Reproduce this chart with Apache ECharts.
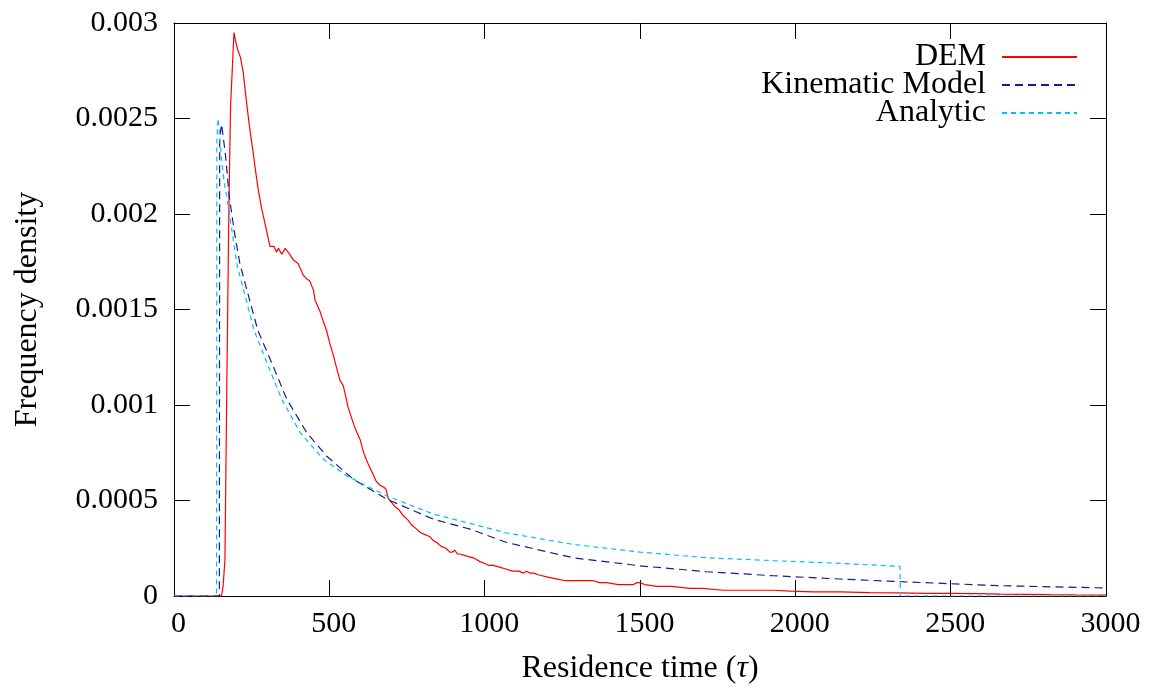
<!DOCTYPE html>
<html><head><meta charset="utf-8">
<script src="https://cdn.jsdelivr.net/npm/echarts@6/dist/echarts.min.js"></script>
<style>html,body{margin:0;padding:0;background:#fff}#c{width:1150px;height:690px}</style>
</head><body><div id="c"></div>
<script>
const X_TICKS = [0, 500, 1000, 1500, 2000, 2500, 3000];
const Y_TICKS = [0, 0.0005, 0.001, 0.0015, 0.002, 0.0025, 0.003];
const SERIES_NAMES = ['DEM', 'Kinematic Model', 'Analytic'];

const DEM_X = [0,140,153,158,164,170,177,182,193,199,205,214,223,231,239,247,255,263,271,282,293,301,309,315,322,330,336,341,347,352,358,363,372,384,392,400,408,416,427,437,443,449,454,462,470,480,491,502,513,524,534,545,552,560,572,585,599,607,615,628,640,651,663,675,682,690,695,710,725,738,752,766,781,795,810,824,835,846,860,875,888,896,904,912,920,940,963,975,985,1000,1014,1028,1050,1071,1090,1110,1125,1135,1145,1157,1175,1200,1230,1260,1285,1320,1350,1370,1393,1430,1479,1490,1500,1515,1554,1600,1661,1700,1768,1820,1876,1930,1983,2058,2144,2240,2337,2420,2498,2580,2659,2740,2820,2900,3000];
const DEM_Y = [0,0,0,0.00005,0.00019,0.0011,0.00207,0.00256,0.00295,0.0029,0.00286,0.00282,0.00274,0.00262,0.00251,0.00241,0.00232,0.00222,0.00213,0.00203,0.00195,0.00189,0.00183,0.00182,0.00183,0.0018,0.00182,0.00182,0.00179,0.0018,0.00182,0.00181,0.00179,0.00176,0.00175,0.00174,0.00171,0.00168,0.00166,0.00165,0.00165,0.0016,0.00155,0.00152,0.00149,0.00144,0.00139,0.00132,0.00126,0.00119,0.00113,0.0011,0.00105,0.00099,0.00093,0.00087,0.00082,0.00077,0.00073,0.00068,0.00064,0.0006,0.00058,0.00057,0.00056,0.00051,0.0005,0.00047,0.00045,0.00042,0.0004,0.00037,0.00035,0.00033,0.00032,0.00031,0.00029,0.00028,0.00026,0.00025,0.00023,0.00023,0.00024,0.00022,0.00022,0.00021,0.0002,0.00019,0.00018,0.00017,0.00016,0.00016,0.00015,0.00014,0.00013,0.00013,0.00012,0.00013,0.00012,0.00012,0.00011,0.0001,0.00009,0.00008,0.00008,0.00008,0.00008,0.00007,0.00007,0.00006,0.00006,0.00007,0.00007,0.00006,0.00005,0.00005,0.00004,0.00004,0.00003,0.00003,0.00003,0.00003,0.000026,0.000022,0.000022,0.000018,0.000016,0.000014,0.000014,0.000012,0.00001,0.000009,0.000007,0.000006,0.000005];

const KIN_X = [0,146,147,153,165,178,195,212,245,270,320,363,427,491,577,685,835,953,1071,1285,1500,1715,1929,2144,2337,2659,3000];
const KIN_Y = [0,0,0.0024,0.00247,0.00232,0.00209,0.0019,0.00174,0.00154,0.00139,0.0012,0.00103,0.000856,0.000733,0.000611,0.000507,0.000402,0.00035,0.00028,0.0002,0.000158,0.000127,0.000106,0.000089,0.000075,0.000054,0.000042];

const ANA_X = [0,137,138,142,148,155,162,170,185,202,234,258,304,347,406,481,556,685,835,953,1071,1285,1500,1715,1929,2144,2337,2338,3000];
const ANA_Y = [0,0,0.0024,0.0025,0.00238,0.00226,0.00216,0.00209,0.00193,0.00174,0.00154,0.00139,0.0012,0.00103,0.000856,0.000716,0.000629,0.000524,0.000429,0.00038,0.00033,0.00027,0.00023,0.0002,0.000185,0.000171,0.000155,0,0];

function pairs(xs, ys){ return xs.map((x,i)=>[x, ys[i]]); }

const FONT = 'Liberation Serif';
const chart = echarts.init(document.getElementById('c'), null, {renderer:'canvas'});
function axisCommon(){ return {
  axisLine:{show:true, onZero:false, lineStyle:{color:'#000', width:1}},
  axisTick:{show:true, inside:true, length:16, lineStyle:{color:'#000', width:1}},
  splitLine:{show:false}
};}
chart.setOption({
  animation:false,
  backgroundColor:'#fff',
  grid:{left:174, right:44, top:23, bottom:93, containLabel:false},
  legend:{
    orient:'vertical', right:67, top:36, align:'right',
    itemWidth:75, itemHeight:14, itemGap:-4,
    itemStyle:{opacity:0},
    textStyle:{fontFamily:FONT, fontSize:32, color:'#000', lineHeight:29, padding:[0,11,0,0]},
    data:SERIES_NAMES
  },
  xAxis:[
    Object.assign({type:'value', min:X_TICKS[0], max:X_TICKS[X_TICKS.length-1], interval:500, position:'bottom',
      name:'{n|Residence time (}{i|τ}{n|)}', nameLocation:'middle', nameGap:57,
      nameTextStyle:{rich:{n:{fontFamily:FONT, fontSize:32, color:'#000'}, i:{fontFamily:FONT, fontSize:32, fontStyle:'italic', color:'#000'}}},
      axisLabel:{fontFamily:FONT, fontSize:30, color:'#000', margin:13, padding:[0,0,0,9], formatter:v=>String(v)}}, axisCommon()),
    Object.assign({type:'value', min:X_TICKS[0], max:X_TICKS[X_TICKS.length-1], interval:500, position:'top', axisLabel:{show:false}}, axisCommon())
  ],
  yAxis:[
    Object.assign({type:'value', min:Y_TICKS[0], max:Y_TICKS[Y_TICKS.length-1], interval:0.0005, position:'left',
      name:'Frequency density', nameLocation:'middle', nameGap:130, nameRotate:90,
      nameTextStyle:{fontFamily:FONT, fontSize:32, color:'#000'},
      axisLabel:{fontFamily:FONT, fontSize:30, color:'#000', margin:16, formatter:v=>String(v)}}, axisCommon()),
    Object.assign({type:'value', min:Y_TICKS[0], max:Y_TICKS[Y_TICKS.length-1], interval:0.0005, position:'right', axisLabel:{show:false}}, axisCommon())
  ],
  series:[
    {name:SERIES_NAMES[0], type:'line', data:pairs(DEM_X, DEM_Y), symbol:'none', showSymbol:false,
      lineStyle:{color:'#ff0000', width:1.2}, itemStyle:{color:'#ff0000'}},
    {name:SERIES_NAMES[1], type:'line', data:pairs(KIN_X, KIN_Y), symbol:'none', showSymbol:false, smooth:false,
      lineStyle:{color:'#1a1a8c', width:1.2, type:[8,5]}, itemStyle:{color:'#1a1a8c'}},
    {name:SERIES_NAMES[2], type:'line', data:pairs(ANA_X, ANA_Y), symbol:'none', showSymbol:false,
      lineStyle:{color:'#00bfff', width:1.2, type:[5,4]}, itemStyle:{color:'#00bfff'}}
  ]
});
</script></body></html>
